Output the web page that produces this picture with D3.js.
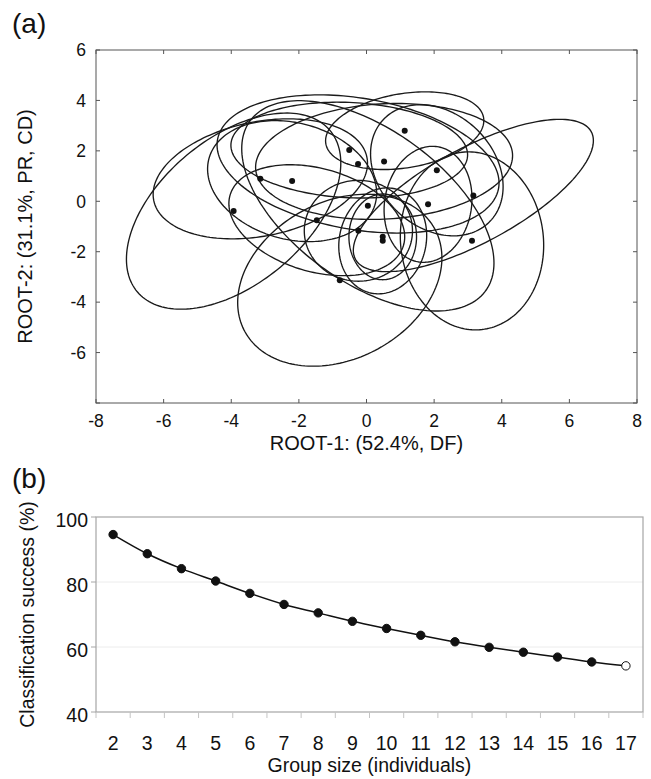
<!DOCTYPE html>
<html>
<head>
<meta charset="utf-8">
<script src="https://cdn.jsdelivr.net/npm/d3@7"></script>
<style>
  body { margin: 0; background: #fff; }
  svg text { font-family: "Liberation Sans", Arial, sans-serif; fill: #111; }
</style>
</head>
<body>
<svg id="fig" width="651" height="779"></svg>
<script>
// (a) group centroids on the two roots
const root1 = [-3.93, -3.14, -2.20, -1.47, -0.79, -0.51, -0.25, -0.24, 0.04, 0.48, 0.48, 0.52, 1.13, 1.82, 2.08, 3.16, 3.12];
const root2 = [-0.39, 0.89, 0.80, -0.75, -3.13, 2.03, 1.48, -1.17, -0.18, -1.41, -1.57, 1.58, 2.80, -0.12, 1.23, 0.23, -1.57];
// ellipse half-width (root-1 units), half-height (root-2 units), and correlation
const ellW = [3.17, 3.17, 2.5, 2.6, 3.02, 3.5, 4.17, 1.6, 3.73, 1.0, 1.3, 3.8, 2.34, 1.3, 1.96, 3.55, 2.12];
const ellH = [3.89, 2.38, 2.4, 2.2, 3.41, 1.9, 2.74, 2.0, 4.17, 1.7, 2.1, 2.3, 1.54, 2.3, 2.6, 3.02, 3.53];
const ellR = [0.49, 0.26, -0.2, -0.3, 0.26, -0.1, -0.275, 0.0, -0.544, 0.0, 0.1, 0.1, 0.26, 0.1, -0.25, 0.72, -0.05];
const ticksA = [-8, -6, -4, -2, 0, 2, 4, 6, 8];
const yTicksA = [-8, -6, -4, -2, 0, 2, 4, 6];

// (b) classification success by group size
const groupSize = [2, 3, 4, 5, 6, 7, 8, 9, 10, 11, 12, 13, 14, 15, 16, 17];
const success = [94.6, 88.7, 84.1, 80.3, 76.5, 73.1, 70.5, 67.9, 65.7, 63.6, 61.6, 59.9, 58.4, 56.9, 55.4, 54.2];
const yTicksB = [40, 60, 80, 100];

const svg = d3.select("#fig");

// ---------- panel (a) ----------
const A = { left: 96, right: 637, top: 50, bottom: 403 };
const x = d3.scaleLinear().domain([-8, 8]).range([A.left, A.right]);
const y = d3.scaleLinear().domain([-8, 6]).range([A.bottom, A.top]);

const ga = svg.append("g");

const ellipses = root1.map((cx, i) => ({ cx, cy: root2[i], w: ellW[i], h: ellH[i], r: ellR[i] }));
const ts = d3.range(0, 2 * Math.PI, Math.PI / 90);
const ellLine = d3.line().x(p => x(p[0])).y(p => y(p[1])).curve(d3.curveLinearClosed);

ga.selectAll(".ell")
  .data(ellipses).join("path")
  .attr("class", "ell")
  .attr("fill", "none")
  .attr("stroke", "#1a1a1a")
  .attr("stroke-width", 1.35)
  .attr("d", e => ellLine(ts.map(t => [
    e.cx + e.w * Math.cos(t),
    e.cy + e.h * (e.r * Math.cos(t) + Math.sqrt(1 - e.r * e.r) * Math.sin(t))
  ])));

ga.selectAll(".dot")
  .data(ellipses).join("circle")
  .attr("cx", e => x(e.cx))
  .attr("cy", e => y(e.cy))
  .attr("r", 3)
  .attr("fill", "#111");

// frame + inward ticks on all four sides
ga.append("rect")
  .attr("x", A.left).attr("y", A.top)
  .attr("width", A.right - A.left).attr("height", A.bottom - A.top)
  .attr("fill", "none").attr("stroke", "#555").attr("stroke-width", 1);

const tickLen = 4;
ga.append("g").selectAll("line").data(ticksA).join("line")
  .attr("x1", d => x(d)).attr("x2", d => x(d))
  .attr("y1", A.bottom).attr("y2", A.bottom - tickLen).attr("stroke", "#555");
ga.append("g").selectAll("line").data(ticksA).join("line")
  .attr("x1", d => x(d)).attr("x2", d => x(d))
  .attr("y1", A.top).attr("y2", A.top + tickLen).attr("stroke", "#555");
ga.append("g").selectAll("line").data(yTicksA).join("line")
  .attr("y1", d => y(d)).attr("y2", d => y(d))
  .attr("x1", A.left).attr("x2", A.left + tickLen).attr("stroke", "#555");
ga.append("g").selectAll("line").data(yTicksA).join("line")
  .attr("y1", d => y(d)).attr("y2", d => y(d))
  .attr("x1", A.right).attr("x2", A.right - tickLen).attr("stroke", "#555");

ga.append("g").selectAll("text").data(ticksA).join("text")
  .attr("x", d => x(d)).attr("y", A.bottom + 24)
  .attr("text-anchor", "middle").attr("font-size", 17.5)
  .text(d => d);
ga.append("g").selectAll("text").data(yTicksA.filter(d => d > -8)).join("text")
  .attr("x", A.left - 10).attr("y", d => y(d)).attr("dy", "0.36em")
  .attr("text-anchor", "end").attr("font-size", 17.5)
  .text(d => d);

ga.append("text").attr("x", (A.left + A.right) / 2).attr("y", 450)
  .attr("text-anchor", "middle").attr("font-size", 20)
  .text("ROOT-1: (52.4%, DF)");
ga.append("text")
  .attr("transform", `translate(32,${(A.top + A.bottom) / 2}) rotate(-90)`)
  .attr("text-anchor", "middle").attr("font-size", 20)
  .text("ROOT-2: (31.1%, PR, CD)");
ga.append("text").attr("x", 12).attr("y", 33).attr("font-size", 28).text("(a)");

// ---------- panel (b) ----------
const B = { left: 96, right: 643, top: 517, bottom: 712 };
const xb = d3.scaleBand().domain(groupSize).range([B.left, B.right]);
const yb = d3.scaleLinear().domain([40, 100]).range([B.bottom, B.top]);

const gb = svg.append("g");

gb.append("g").selectAll("line").data(yTicksB.filter(d => d > 40 && d < 100)).join("line")
  .attr("x1", B.left).attr("x2", B.right)
  .attr("y1", d => yb(d)).attr("y2", d => yb(d))
  .attr("stroke", "#ececec");

gb.append("rect")
  .attr("x", B.left).attr("y", B.top)
  .attr("width", B.right - B.left).attr("height", B.bottom - B.top)
  .attr("fill", "none").attr("stroke", "#a6a6a6").attr("stroke-width", 1.2);

// x ticks at band boundaries, below the frame
const bounds = groupSize.map(d => xb(d)).concat([B.right]);
gb.append("g").selectAll("line").data(bounds).join("line")
  .attr("x1", d => d).attr("x2", d => d)
  .attr("y1", B.bottom).attr("y2", B.bottom + 6)
  .attr("stroke", "#c4c4c4");
gb.append("g").selectAll("line").data(yTicksB).join("line")
  .attr("x1", B.left - 5).attr("x2", B.left)
  .attr("y1", d => yb(d)).attr("y2", d => yb(d))
  .attr("stroke", "#a6a6a6");

gb.append("g").selectAll("text").data(groupSize).join("text")
  .attr("x", d => xb(d) + xb.bandwidth() / 2).attr("y", B.bottom + 38)
  .attr("text-anchor", "middle").attr("font-size", 19.5)
  .text(d => d);
gb.append("g").selectAll("text").data(yTicksB).join("text")
  .attr("x", B.left - 8).attr("y", d => yb(d) + 3).attr("dy", "0.36em")
  .attr("text-anchor", "end").attr("font-size", 19.5)
  .text(d => d);

const pts = groupSize.map((g, i) => ({ g, v: success[i], open: i === groupSize.length - 1 }));
gb.append("path")
  .datum(pts)
  .attr("fill", "none").attr("stroke", "#111").attr("stroke-width", 1.5)
  .attr("d", d3.line().x(d => xb(d.g) + xb.bandwidth() / 2).y(d => yb(d.v)).curve(d3.curveMonotoneX));
gb.selectAll(".pt").data(pts).join("circle")
  .attr("cx", d => xb(d.g) + xb.bandwidth() / 2)
  .attr("cy", d => yb(d.v))
  .attr("r", 4.2)
  .attr("fill", d => d.open ? "#fff" : "#111")
  .attr("stroke", "#111").attr("stroke-width", 1);

gb.append("text").attr("x", (B.left + B.right) / 2).attr("y", 772)
  .attr("text-anchor", "middle").attr("font-size", 19.5)
  .text("Group size (individuals)");
gb.append("text")
  .attr("transform", `translate(34,${(B.top + B.bottom) / 2}) rotate(-90)`)
  .attr("text-anchor", "middle").attr("font-size", 19.5)
  .text("Classification success (%)");
gb.append("text").attr("x", 12).attr("y", 488).attr("font-size", 28).text("(b)");
</script>
</body>
</html>
